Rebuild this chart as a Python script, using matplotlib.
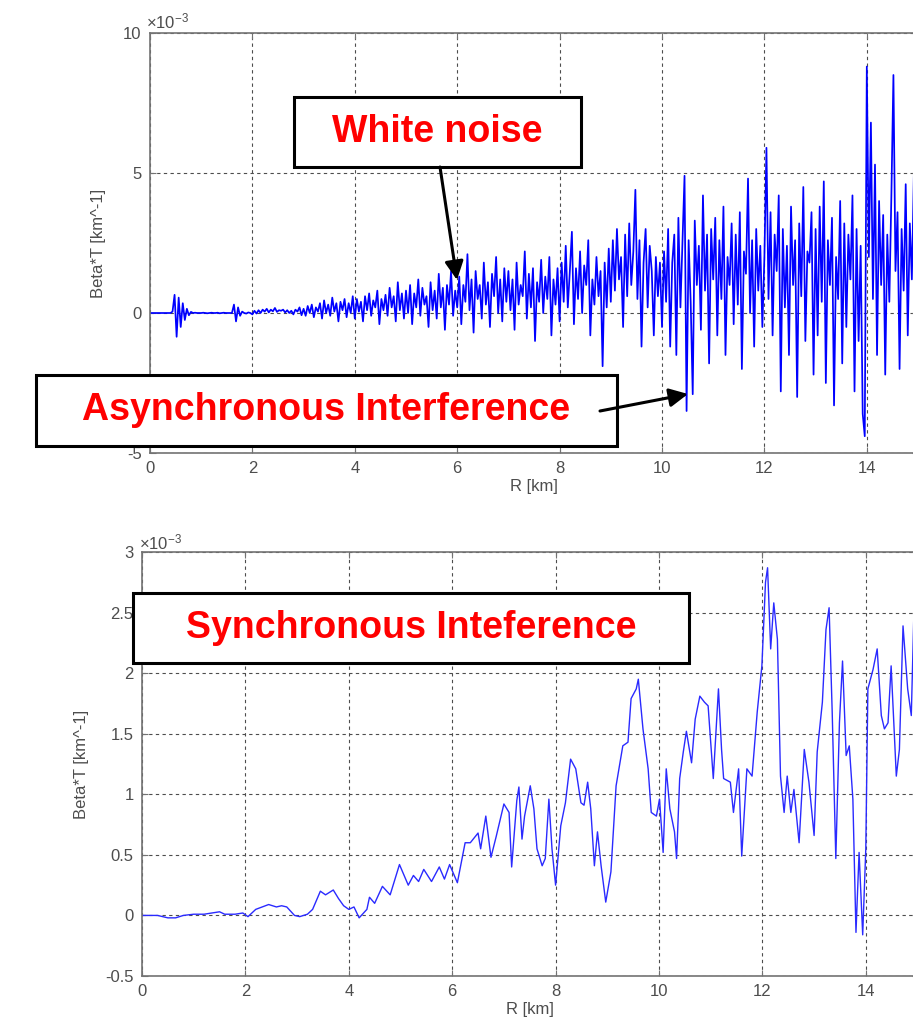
import numpy as np
import matplotlib
matplotlib.use("Agg")
import matplotlib.pyplot as plt
from matplotlib.patches import Rectangle, FancyArrowPatch
from matplotlib.ticker import FuncFormatter

plt.rcParams['font.family'] = ['Liberation Sans', 'DejaVu Sans']
plt.rcParams['mathtext.fontset'] = 'custom'
plt.rcParams['mathtext.rm'] = 'Liberation Sans'

# ---- upper panel: raw Beta*T profile (units of 1e-3 km^-1), one row per km, 0.04 km step
STEP_KM = 0.04
raw_km00 = [0, 0, 0, 0, 0, 0, 0, 0, 0, 0, 0, 0.05, 0.65, -0.85, 0.55, -0.5, 0.35, -0.25, 0.15, -0.08, 0.04, 0, 0.01, 0, 0]
raw_km01 = [0, 0.01, 0, -0.01, 0, 0.01, 0, 0, 0.01, -0.01, 0, 0.01, 0, 0, 0, 0, 0.3, -0.3, 0.2, -0.1, 0.05, 0, -0.02, 0.02, 0]
raw_km02 = [-0.05, 0.08, -0.02, 0.1, 0.0, 0.12, 0.05, 0.15, 0.02, 0.12, 0.06, 0.18, 0.04, 0.1, 0.08, 0.12, 0.02, 0.1, 0.0, 0.08, -0.05, 0.12, 0.05, 0.2, -0.08]
raw_km03 = [0.15, -0.1, 0.25, 0.0, 0.3, -0.15, 0.2, 0.05, 0.35, -0.2, 0.45, 0.0, 0.3, -0.1, 0.55, 0.05, 0.35, -0.3, 0.4, 0.1, 0.5, -0.15, 0.35, 0.0, 0.6]
raw_km04 = [-0.2, 0.5, 0.05, 0.4, -0.3, 0.6, 0.1, 0.7, -0.1, 0.45, 0.2, 0.8, -0.4, 0.5, 0.1, 0.65, -0.1, 0.9, 0.2, 0.6, -0.3, 1.1, 0.1, 0.7, -0.2]
raw_km05 = [0.8, 0.0, 1.0, -0.4, 0.7, 0.2, 1.2, -0.1, 0.9, 0.3, 0.6, -0.5, 1.1, 0.1, 0.8, -0.2, 1.4, 0.2, 0.9, -0.6, 1.0, 0.3, 1.5, -0.1, 0.8]
raw_km06 = [0.2, 1.3, -0.4, 1.0, 0.4, 2.1, 0.1, 1.2, -0.7, 1.5, 0.5, 1.0, -0.2, 1.8, 0.3, 1.1, -0.5, 1.4, 0.6, 2.0, 0.0, 1.2, -0.3, 1.6, 0.4]
raw_km07 = [1.5, 0.1, 1.2, -0.6, 1.8, 0.3, 1.0, 0.6, 2.2, -0.2, 1.4, 0.2, 1.6, -1.0, 1.1, 0.4, 1.9, 0.0, 1.3, 0.5, 2.0, -0.8, 1.2, 0.3, 1.6]
raw_km08 = [-0.3, 1.8, 0.4, 2.4, 0.2, 1.5, 2.9, -0.4, 1.6, 0.5, 2.2, 0.0, 1.7, 1.0, 2.6, -0.8, 1.2, 0.3, 2.0, 0.6, 1.5, -1.9, 1.8, 0.2, 2.3]
raw_km09 = [0.4, 2.6, 0.8, 3.0, 1.2, 2.0, -0.5, 2.8, 0.6, 3.2, 1.0, 2.2, 4.4, 0.5, 2.6, -1.2, 1.8, 3.0, 0.2, 2.4, 1.5, -0.8, 2.0, 0.6, 1.8]
raw_km10 = [-0.5, 2.2, 0.4, 3.0, -1.2, 1.8, 2.8, -1.5, 3.4, 0.2, 2.5, 4.9, -3.5, 2.6, 0.4, -2.9, 3.3, 1.0, 2.4, -0.6, 4.2, 0.8, 2.8, -1.8, 3.0]
raw_km11 = [1.2, 3.4, -0.8, 2.6, 0.5, 3.8, -1.5, 2.0, 1.0, 3.2, -0.4, 2.8, 0.3, 3.6, -2.0, 2.2, 1.4, 4.8, 0.0, 2.6, -1.2, 3.0, 0.8, 2.4, -0.5]
raw_km12 = [2.0, 5.9, 0.5, 3.6, -0.8, 2.8, 1.5, 4.2, -2.8, 3.0, 0.2, 2.4, -1.5, 3.8, 1.0, 2.6, -3.0, 3.2, 0.6, 4.5, -1.0, 2.2, 1.8, 3.6, -2.2]
raw_km13 = [3.0, -0.8, 3.8, 0.4, 4.7, -2.5, 2.6, 1.0, 3.4, -3.3, 2.0, 0.5, 4.0, -1.8, 3.2, -0.5, 2.8, 1.2, 4.2, -2.8, 3.0, -1.0, 2.4, -3.6, -4.4]
raw_km14 = [8.8, 2.0, 6.8, 0.5, 5.3, -1.5, 4.0, 1.0, 3.5, -2.2, 2.8, 0.4, 4.2, 8.5, 1.5, 3.6, -2.0, 3.0, 0.8, 4.6, -0.8, 3.2, 1.2, 5.0, 0.5]

raw_rows = [raw_km00, raw_km01, raw_km02, raw_km03, raw_km04, raw_km05, raw_km06, raw_km07,
            raw_km08, raw_km09, raw_km10, raw_km11, raw_km12, raw_km13, raw_km14]

# ---- lower panel: filtered Beta*T profile (units of 1e-3 km^-1)
filt_r = [0, 0.3, 0.4, 0.5, 0.65, 0.8, 1.0, 1.2, 1.5, 1.6, 1.8, 1.95, 2.05, 2.2, 2.45, 2.6, 2.7, 2.8,
          2.95, 3.05, 3.2, 3.3, 3.45, 3.55, 3.7, 3.8, 3.9, 4.0, 4.1, 4.2, 4.35, 4.4, 4.5, 4.65, 4.8,
          4.98, 5.15, 5.25, 5.35, 5.45, 5.6, 5.75, 5.85, 5.95, 6.1, 6.25, 6.35, 6.5, 6.55, 6.65, 6.75,
          6.85, 7.0, 7.1, 7.15, 7.25, 7.29, 7.35, 7.4, 7.51, 7.58, 7.64, 7.74, 7.8, 7.87, 7.93, 8.0,
          8.1, 8.19, 8.29, 8.39, 8.49, 8.55, 8.62, 8.68, 8.75, 8.81, 8.88, 8.97, 9.07, 9.17, 9.3, 9.4,
          9.46, 9.56, 9.6, 9.69, 9.79, 9.85, 9.95, 10.01, 10.08, 10.14, 10.21, 10.3, 10.34, 10.4,
          10.47, 10.53, 10.63, 10.7, 10.79, 10.88, 10.95, 11.01, 11.05, 11.15, 11.21, 11.25, 11.38,
          11.44, 11.54, 11.6, 11.7, 11.8, 11.9, 11.99, 12.06, 12.1, 12.16, 12.22, 12.29, 12.35, 12.42,
          12.48, 12.55, 12.61, 12.71, 12.81, 12.9, 13.0, 13.06, 13.16, 13.23, 13.29, 13.35, 13.42,
          13.49, 13.55, 13.62, 13.68, 13.75, 13.81, 13.87, 13.94, 14.0, 14.04, 14.14, 14.22, 14.3,
          14.36, 14.43, 14.49, 14.59, 14.65, 14.72, 14.81, 14.88, 14.94, 15.0]
filt_beta = [0, 0, -0.01, -0.02, -0.02, 0.0, 0.01, 0.01, 0.03, 0.01, 0.01, 0.02, -0.01, 0.05, 0.09,
             0.07, 0.08, 0.07, 0.0, -0.01, 0.01, 0.05, 0.2, 0.17, 0.21, 0.14, 0.08, 0.05, 0.07, -0.02,
             0.05, 0.15, 0.1, 0.24, 0.17, 0.42, 0.25, 0.33, 0.28, 0.38, 0.28, 0.4, 0.3, 0.42, 0.27,
             0.6, 0.6, 0.68, 0.55, 0.82, 0.48, 0.65, 0.92, 0.85, 0.4, 0.95, 1.06, 0.63, 0.82, 1.07,
             0.88, 0.55, 0.41, 0.47, 0.96, 0.55, 0.25, 0.74, 0.93, 1.29, 1.21, 0.93, 0.91, 1.1, 0.88,
             0.41, 0.69, 0.41, 0.11, 0.36, 1.07, 1.4, 1.43, 1.79, 1.87, 1.95, 1.54, 1.21, 0.85, 0.82,
             0.96, 0.52, 1.21, 0.88, 0.69, 0.47, 1.13, 1.35, 1.52, 1.26, 1.62, 1.81, 1.76, 1.73, 1.37,
             1.13, 1.87, 1.37, 1.13, 1.1, 0.85, 1.21, 0.49, 1.21, 1.15, 1.68, 2.06, 2.75, 2.87, 2.2,
             2.58, 2.28, 1.15, 0.85, 1.15, 0.85, 1.04, 0.6, 1.37, 1.1, 0.66, 1.35, 1.76, 2.36, 2.54,
             1.68, 0.47, 1.59, 2.1, 1.32, 1.4, 0.96, -0.14, 0.52, -0.16, 0.55, 1.87, 2.03, 2.2, 1.65,
             1.54, 1.59, 2.06, 1.15, 1.37, 2.39, 1.87, 1.65, 2.66, 2.5]

SCALE = 1e-3
x_ticks = [0, 2, 4, 6, 8, 10, 12, 14]
top_yticks = [-5, 0, 5, 10]
bot_yticks = [-0.5, 0, 0.5, 1, 1.5, 2, 2.5, 3]

W, H = 913, 1028
fig = plt.figure(figsize=(W / 100, H / 100), dpi=100)


def fx(px):
    return px / W


def fy(py):
    return 1 - py / H


TEXT_C = '0.3'
SPINE_C = '0.45'


def style_axes(ax, yticks):
    ax.set_xlim(0, 15)
    ax.set_xticks(x_ticks)
    ax.set_yticks([v * SCALE for v in yticks])
    ax.yaxis.set_major_formatter(FuncFormatter(lambda v, p: f"{v / SCALE:g}"))
    ax.grid(True, linestyle=(0, (3, 3)), color='0.3', linewidth=0.8)
    ax.set_axisbelow(True)
    for s in ax.spines.values():
        s.set_color(SPINE_C)
        s.set_linewidth(1.2)
    ax.tick_params(direction='in', length=4, width=0.8, color=SPINE_C,
                   labelsize=12, labelcolor=TEXT_C, pad=6, top=True, right=True)
    ax.set_xlabel('R [km]', fontsize=12, color=TEXT_C, labelpad=2)
    ax.set_ylabel('Beta*T [km^-1]', fontsize=12, color=TEXT_C, labelpad=12)


# upper axes
ax1 = fig.add_axes([fx(150), fy(453), 15 * 51.2 / W, (453 - 33) / H])
raw_vals = np.concatenate([np.asarray(r, dtype=float) for r in raw_rows])
raw_r = np.arange(raw_vals.size) * STEP_KM
ax1.plot(raw_r, raw_vals * SCALE, color='#0000ff', linewidth=1.25)
ax1.set_ylim(-5 * SCALE, 10 * SCALE)
style_axes(ax1, top_yticks)

# lower axes
ax2 = fig.add_axes([fx(142), fy(976), 15 * 51.7 / W, (976 - 552) / H])
ax2.plot(np.asarray(filt_r), np.asarray(filt_beta) * SCALE, color='#2a2aff', linewidth=1.0)
ax2.set_ylim(-0.5 * SCALE, 3 * SCALE)
style_axes(ax2, bot_yticks)

# exponent labels above each panel
fig.text(fx(146), fy(28), r'$\times\mathregular{10^{-3}}$', fontsize=12, color=TEXT_C,
         ha='left', va='baseline')
fig.text(fx(139), fy(549), r'$\times\mathregular{10^{-3}}$', fontsize=12, color=TEXT_C,
         ha='left', va='baseline')


def callout(x0, y0, x1, y1, label):
    rect = Rectangle((fx(x0), fy(y1)), fx(x1 - x0), (y1 - y0) / H, transform=fig.transFigure,
                     facecolor='white', edgecolor='black', linewidth=2.2, zorder=5)
    fig.add_artist(rect)
    fig.text(fx((x0 + x1) / 2), fy((y0 + y1) / 2), label, fontsize=27, fontweight='bold',
             color='#ff0000', ha='center', va='center', zorder=6)


def arrow(xa, ya, xb, yb):
    a = FancyArrowPatch((fx(xa), fy(ya)), (fx(xb), fy(yb)), transform=fig.transFigure,
                        arrowstyle='-|>', mutation_scale=28, linewidth=2.2, color='black',
                        shrinkA=0, shrinkB=0, zorder=7)
    fig.add_artist(a)


callout(294, 97, 581, 167, 'White noise')
arrow(440, 167, 457, 280)
callout(36, 375, 617, 446, 'Asynchronous Interference')
arrow(600, 411, 688, 394)
callout(133, 593, 689, 663, 'Synchronous Inteference')

fig.savefig('out.png', dpi=100)
